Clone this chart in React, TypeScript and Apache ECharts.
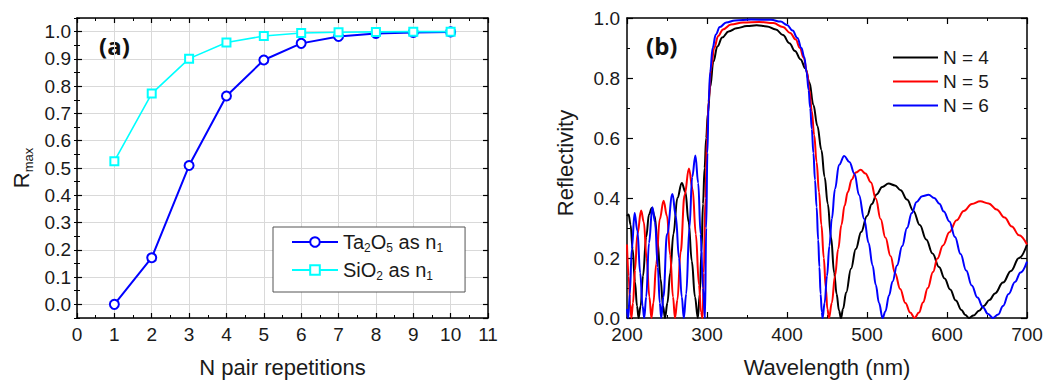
import React, { useEffect, useRef } from "react";
import * as echarts from "echarts";

// ---------- Panel (a) data ----------
const nPairs = [1, 2, 3, 4, 5, 6, 7, 8, 9, 10];
const rmaxTa2O5 = [0.0, 0.171, 0.509, 0.764, 0.896, 0.957, 0.982, 0.993, 0.997, 0.999];
const rmaxSiO2 = [0.525, 0.773, 0.901, 0.96, 0.984, 0.995, 0.998, 0.999, 1.0, 1.0];
const seriesNamesA = ["Ta2O5 as n1", "SiO2 as n1"];
const legendRichA: Record<string, string> = {
  "Ta2O5 as n1": "{m|Ta}{s|2}{m|O}{s|5}{m| as n}{s|1}",
  "SiO2 as n1": "{m|SiO}{s|2}{m| as n}{s|1}",
};

// ---------- Panel (b) data: [wavelength nm, reflectivity] ----------
const reflN4: [number, number][] = [
  [200, 0.34], [202, 0.345], [204.5, 0.31], [207, 0.23], [210, 0.12], [212.5, 0.04], [214.5, 0],
  [217, 0.04], [220, 0.14], [224, 0.27], [227.5, 0.345], [231, 0.367], [234.5, 0.34], [238, 0.26],
  [242, 0.13], [245, 0.04], [247.5, 0], [250.5, 0.05], [254, 0.15], [258, 0.28], [263, 0.4],
  [268.5, 0.45], [273, 0.42], [277, 0.32], [281, 0.19], [285, 0.07], [288.5, 0], [291, 0.08],
  [293, 0.22], [295, 0.38], [297, 0.5], [299, 0.6], [301, 0.68], [304, 0.77], [308, 0.855],
  [313, 0.905], [319, 0.935], [327, 0.955], [337, 0.966], [350, 0.973], [362, 0.976], [375, 0.972],
  [386, 0.962], [395, 0.943], [403, 0.916], [410, 0.89], [417, 0.862], [423, 0.832], [428, 0.785],
  [433, 0.71], [438, 0.64], [443, 0.56], [447, 0.47], [451, 0.38], [455, 0.27], [459, 0.15],
  [462, 0.08], [465, 0.025], [467.5, 0], [470, 0.03], [474, 0.085], [480, 0.164], [486, 0.23],
  [492.7, 0.287], [500, 0.34], [506, 0.38], [512, 0.412], [519, 0.437], [527, 0.448], [535, 0.442],
  [542, 0.426], [550, 0.395], [558, 0.357], [566, 0.31], [574, 0.262], [582, 0.215], [590, 0.17],
  [597, 0.132], [604, 0.095], [611, 0.058], [618, 0.027], [623, 0.01], [627.5, 0], [633, 0.008],
  [640, 0.024], [646, 0.04], [653, 0.06], [660, 0.082], [670, 0.118], [680, 0.157], [690, 0.2],
  [700, 0.245],
];
const reflN5: [number, number][] = [
  [200, 0.245], [202, 0.14], [204, 0.045], [205.5, 0], [207.5, 0.05], [210, 0.16], [213, 0.28],
  [217.7, 0.358], [221, 0.32], [224.5, 0.2], [228, 0.07], [230.5, 0], [233, 0.05], [236.5, 0.18],
  [241, 0.33], [245.7, 0.391], [250, 0.34], [254, 0.21], [257.5, 0.07], [260, 0], [263, 0.06],
  [267, 0.22], [272, 0.41], [277.4, 0.498], [282, 0.43], [286, 0.28], [290, 0.11], [292.5, 0.02],
  [294.5, 0], [296, 0.15], [298, 0.4], [300, 0.6], [302, 0.72], [305, 0.83], [309, 0.9], [314, 0.94],
  [320, 0.962], [330, 0.978], [345, 0.985], [365, 0.987], [383, 0.983], [395, 0.97], [404, 0.95],
  [411, 0.928], [416, 0.9], [421, 0.867], [425, 0.82], [428, 0.76], [431, 0.69], [434, 0.61],
  [437, 0.52], [440, 0.42], [443, 0.31], [446, 0.2], [448.5, 0.1], [450.5, 0.03], [452.5, 0],
  [456, 0.05], [460, 0.14], [464, 0.23], [468, 0.31], [472, 0.375], [476, 0.42], [481, 0.462],
  [486, 0.485], [492, 0.494], [498, 0.482], [505, 0.452], [511, 0.398], [517, 0.33], [523, 0.268],
  [529.5, 0.206], [535, 0.15], [541.5, 0.097], [548, 0.05], [554, 0.018], [559.5, 0], [565, 0.018],
  [570, 0.052], [576, 0.1], [582.5, 0.153], [588, 0.198], [595, 0.242], [603, 0.286], [612, 0.326],
  [621, 0.357], [631, 0.38], [641.5, 0.389], [652, 0.382], [662, 0.362], [672, 0.335], [681, 0.305],
  [690, 0.276], [700, 0.245],
];
const reflN6: [number, number][] = [
  [200, 0.03], [201.5, 0], [203.5, 0.08], [206, 0.23], [209.5, 0.35], [213, 0.29], [216.5, 0.15],
  [219.5, 0.04], [221.5, 0], [224, 0.07], [227.5, 0.25], [231.7, 0.369], [235, 0.32], [238.5, 0.17],
  [241, 0.05], [242.8, 0], [245.5, 0.07], [250, 0.28], [256.8, 0.413], [261, 0.34], [265, 0.2],
  [268.5, 0.07], [271, 0], [274, 0.08], [278, 0.3], [281.5, 0.47], [285.5, 0.542], [289, 0.45],
  [292, 0.28], [295, 0.1], [297.5, 0], [299, 0.3], [300.5, 0.55], [302, 0.72], [304, 0.82],
  [307, 0.9], [311, 0.945], [316, 0.97], [324, 0.985], [335, 0.992], [355, 0.995], [380, 0.994],
  [392, 0.988], [400, 0.977], [407, 0.958], [413, 0.933], [418, 0.9], [421.5, 0.87], [424.5, 0.82],
  [427, 0.76], [429, 0.7], [431, 0.63], [433, 0.55], [435, 0.46], [437, 0.37], [439, 0.26],
  [440.5, 0.17], [442, 0.08], [443.5, 0.02], [444.5, 0], [447, 0.05], [450, 0.14], [453, 0.24],
  [456, 0.33], [460, 0.43], [465, 0.51], [471.5, 0.54], [478, 0.52], [484.5, 0.48], [490, 0.41],
  [496.5, 0.33], [502, 0.25], [507, 0.175], [511, 0.11], [515, 0.05], [519.5, 0], [523, 0.022],
  [527.5, 0.075], [532, 0.122], [537.5, 0.175], [544, 0.24], [550, 0.3], [556, 0.35], [562, 0.387],
  [569, 0.406], [577, 0.411], [584, 0.4], [590.5, 0.381], [596, 0.355], [603, 0.322], [610, 0.27],
  [617, 0.213], [624, 0.158], [631, 0.108], [638, 0.068], [645, 0.036], [651, 0.014], [657.5, 0],
  [664, 0.012], [670, 0.04], [677, 0.08], [685, 0.12], [692, 0.152], [700, 0.188],
];
const seriesNamesB = ["N = 4", "N = 5", "N = 6"];
const colorsB = ["#000000", "#ff0000", "#0000ff"];

const FONT = "'Liberation Sans', Arial, sans-serif";
const BOLDFONT = "'Open Sans', 'Liberation Sans', sans-serif";
const TXT = "#1a1a1a";

function frameAxis(extra: any) {
  return {
    type: "value",
    axisLine: { show: true, onZero: false, lineStyle: { color: "#000", width: 1.5 } },
    axisTick: { show: true, inside: true, length: 5, lineStyle: { color: "#000", width: 1.2 } },
    axisLabel: { show: false },
    splitLine: { show: false },
    ...extra,
  };
}

function buildOption() {
  const labelStyle = { color: TXT, fontSize: 19, fontFamily: FONT };
  const nameStyle = { color: TXT, fontSize: 22, fontFamily: FONT };
  const minorOnly = (extra: any) => ({
    type: "value",
    axisLine: { show: false },
    axisTick: { show: true, inside: true, length: 3, lineStyle: { color: "#000", width: 1 } },
    axisLabel: { show: false },
    splitLine: { show: false },
    ...extra,
  });

  return {
    animation: false,
    backgroundColor: "#fff",
    grid: [
      { left: 77, top: 18, width: 411, height: 302 },
      { left: 627, top: 18, width: 400, height: 301 },
    ],
    xAxis: [
      frameAxis({
        gridIndex: 0, position: "bottom", min: 0, max: 11, interval: 1,
        minorTick: { show: true, splitNumber: 2, length: 3, lineStyle: { color: "#000", width: 1 } },
        splitLine: { show: true, lineStyle: { color: "#d9d9d9", width: 1 } },
        axisLabel: { show: true, margin: 7, ...labelStyle },
        name: "N pair repetitions", nameLocation: "middle", nameGap: 38, nameTextStyle: nameStyle,
      }),
      frameAxis({
        gridIndex: 0, position: "top", min: 0, max: 11, interval: 1,
        minorTick: { show: true, splitNumber: 2, length: 3, lineStyle: { color: "#000", width: 1 } },
      }),
      frameAxis({
        gridIndex: 1, position: "bottom", min: 200, max: 700, interval: 100,
        axisTick: { show: true, inside: true, length: 6, lineStyle: { color: "#000", width: 1.2 } },
        minorTick: { show: true, splitNumber: 2, length: 3, lineStyle: { color: "#000", width: 1 } },
        axisLabel: { show: true, margin: 7, ...labelStyle },
        name: "Wavelength (nm)", nameLocation: "middle", nameGap: 38, nameTextStyle: nameStyle,
      }),
      frameAxis({
        gridIndex: 1, position: "top", min: 200, max: 700, interval: 100,
        axisTick: { show: true, inside: true, length: 6, lineStyle: { color: "#000", width: 1.2 } },
        minorTick: { show: true, splitNumber: 2, length: 3, lineStyle: { color: "#000", width: 1 } },
      }),
    ],
    yAxis: [
      frameAxis({
        gridIndex: 0, position: "left", min: -0.05, max: 1.05, minInterval: 0.1, maxInterval: 0.1, splitNumber: 11,
        splitLine: { show: true, lineStyle: { color: "#d9d9d9", width: 1 } },
        axisLabel: {
          show: true, margin: 6, showMinLabel: false, showMaxLabel: false,
          formatter: (v: number) => v.toFixed(1), ...labelStyle,
        },
        name: "{r|R}{s|max}", nameLocation: "middle", nameRotate: 90, nameGap: 42,
        nameTextStyle: {
          rich: {
            r: { fontSize: 22, lineHeight: 28, fontFamily: FONT, color: TXT, verticalAlign: "middle" },
            s: { fontSize: 13, lineHeight: 5, fontFamily: FONT, color: TXT, verticalAlign: "bottom" },
          },
        },
      }),
      minorOnly({ gridIndex: 0, position: "left", min: -0.05, max: 1.05, interval: 0.05 }),
      frameAxis({ gridIndex: 0, position: "right", min: -0.05, max: 1.05, minInterval: 0.1, maxInterval: 0.1, splitNumber: 11 }),
      minorOnly({ gridIndex: 0, position: "right", min: -0.05, max: 1.05, interval: 0.05 }),
      frameAxis({
        gridIndex: 1, position: "left", min: 0, max: 1, interval: 0.2,
        axisTick: { show: true, inside: true, length: 6, lineStyle: { color: "#000", width: 1.2 } },
        minorTick: { show: true, splitNumber: 2, length: 3, lineStyle: { color: "#000", width: 1 } },
        axisLabel: { show: true, margin: 7, formatter: (v: number) => v.toFixed(1), ...labelStyle },
        name: "Reflectivity", nameLocation: "middle", nameRotate: 90, nameGap: 51,
        nameTextStyle: { ...nameStyle, padding: [0, 0, 0, 10] },
      }),
      frameAxis({
        gridIndex: 1, position: "right", min: 0, max: 1, interval: 0.2,
        axisTick: { show: true, inside: true, length: 6, lineStyle: { color: "#000", width: 1.2 } },
        minorTick: { show: true, splitNumber: 2, length: 3, lineStyle: { color: "#000", width: 1 } },
      }),
    ],
    legend: [
      {
        data: seriesNamesA,
        orient: "vertical",
        left: 273,
        top: 227,
        padding: [5, 22, 10, 18],
        itemGap: 6,
        itemWidth: 46,
        itemHeight: 12,
        borderColor: "#555",
        borderWidth: 1,
        backgroundColor: "#fff",
        formatter: (name: string) => legendRichA[name] || name,
        textStyle: {
          rich: {
            m: { fontSize: 20, lineHeight: 24, fontFamily: FONT, color: TXT, verticalAlign: "middle" },
            s: { fontSize: 12, lineHeight: 4, fontFamily: FONT, color: TXT, verticalAlign: "bottom" },
          },
        },
      },
      {
        data: seriesNamesB,
        orient: "vertical",
        left: 893,
        top: 48,
        padding: 0,
        itemGap: 5,
        itemWidth: 45,
        itemHeight: 2,
        icon: "rect",
        textStyle: { fontSize: 19, fontFamily: FONT, color: TXT },
      },
    ],
    graphic: [
      {
        type: "text", left: 99, top: 33,
        style: { text: "(a)", fontSize: 24, fontWeight: "bold", fontFamily: BOLDFONT, fill: "#111" },
      },
      {
        type: "text", left: 646, top: 33,
        style: { text: "(b)", fontSize: 24, fontWeight: "bold", fontFamily: BOLDFONT, fill: "#111" },
      },
    ],
    series: [
      {
        name: seriesNamesA[0], type: "line", xAxisIndex: 0, yAxisIndex: 0,
        data: nPairs.map((n, i) => [n, rmaxTa2O5[i]]),
        symbol: "emptyCircle", symbolSize: 9,
        itemStyle: { color: "#0000ff", borderWidth: 2 },
        lineStyle: { color: "#0000ff", width: 2 },
        z: 3,
      },
      {
        name: seriesNamesA[1], type: "line", xAxisIndex: 0, yAxisIndex: 0,
        data: nPairs.map((n, i) => [n, rmaxSiO2[i]]),
        symbol: "emptyRect", symbolSize: 8,
        itemStyle: { color: "#00ffff", borderWidth: 1.6 },
        lineStyle: { color: "#00ffff", width: 1.6 },
        z: 4,
      },
      ...[reflN4, reflN5, reflN6].map((d, i) => ({
        name: seriesNamesB[i], type: "line", xAxisIndex: 2, yAxisIndex: 4,
        data: d, symbol: "none", smooth: 0.4, smoothMonotone: "x",
        lineStyle: { color: colorsB[i], width: 2 },
        itemStyle: { color: colorsB[i] },
        z: 3 + i,
      })),
    ],
  };
}

export default function App() {
  const ref = useRef<HTMLDivElement>(null);
  useEffect(() => {
    if (!ref.current) return;
    const chart = echarts.init(ref.current, null, { renderer: "svg" });
    chart.setOption(buildOption() as any);
    return () => chart.dispose();
  }, []);
  return (
    <div
      ref={ref}
      style={{ position: "absolute", left: 0, top: 0, width: 1057, height: 383, background: "#fff" }}
    />
  );
}
